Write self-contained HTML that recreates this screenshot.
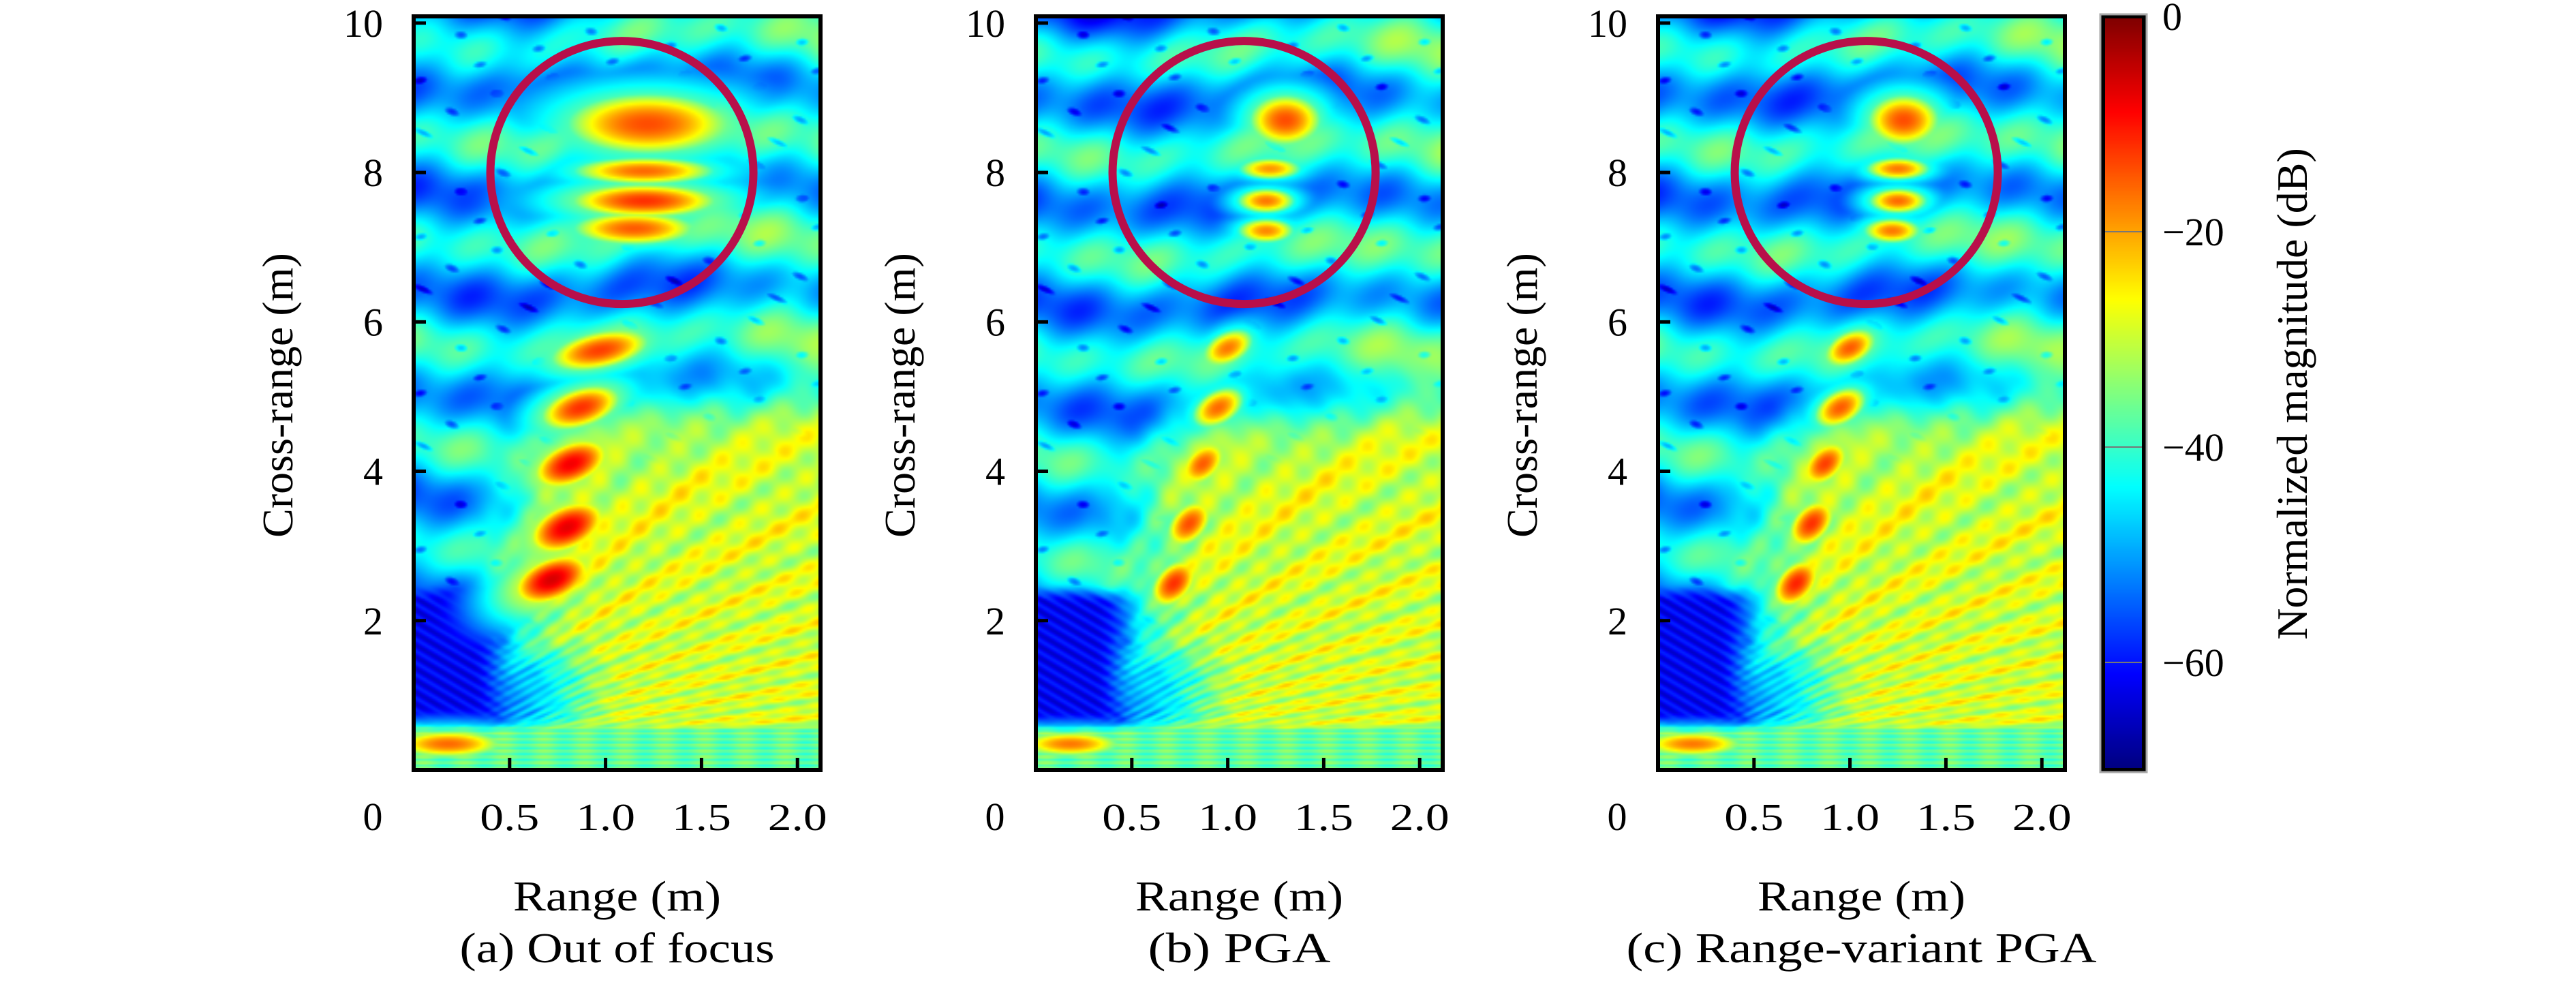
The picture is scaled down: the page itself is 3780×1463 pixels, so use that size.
<!DOCTYPE html>
<html><head><meta charset="utf-8">
<style>
html,body{margin:0;padding:0;background:#fff;}
#root{position:relative;width:3780px;height:1463px;overflow:hidden;font-family:"Liberation Serif",serif;}
canvas{position:absolute;}
svg{position:absolute;left:0;top:0;}
text{font-family:"Liberation Serif",serif;fill:#000;}
</style></head>
<body>
<div id="root">
<canvas id="cv0"></canvas>
<canvas id="cv1"></canvas>
<canvas id="cv2"></canvas>
<canvas id="cbar"></canvas>
<svg id="ov" width="3780" height="1463"></svg>
</div>
<script>
// ---- data ----
const xTicks = [0.5, 1.0, 1.5, 2.0];
const xTickLabels = ["0.5", "1.0", "1.5", "2.0"];
const yTicks = [2, 4, 6, 8, 10];
const yTickLabels = ["2", "4", "6", "8", "10"];
const cbTicks = [0, -20, -40, -60];
const cbTickLabels = ["0", "\u221220", "\u221240", "\u221260"];
const captions = ["(a) Out of focus", "(b) PGA", "(c) Range-variant PGA"];
// target blobs per panel: range (m), cross-range (m), peak dB
const blobXa = [1.22, 1.2, 1.2, 1.15, 0.97, 0.87, 0.82, 0.8, 0.72, 0.18];
const blobYa = [8.65, 8.02, 7.62, 7.25, 5.62, 4.85, 4.1, 3.25, 2.55, 0.35];
const blobPa = [-14, -16, -12, -15, -13, -12, -8, -7, -6, -16];
const blobXb = [1.3, 1.22, 1.2, 1.2, 1.0, 0.95, 0.87, 0.8, 0.72, 0.18];
const blobYb = [8.7, 8.05, 7.62, 7.22, 5.65, 4.85, 4.1, 3.3, 2.5, 0.35];
const blobPb = [-14, -19, -17, -18, -17, -16, -15, -14, -12, -17];
const blobXc = [1.28, 1.25, 1.25, 1.22, 1.0, 0.95, 0.87, 0.8, 0.72, 0.18];
const blobYc = [8.7, 8.05, 7.62, 7.22, 5.65, 4.85, 4.1, 3.3, 2.5, 0.35];
const blobPc = [-14, -17, -16, -17, -15, -15, -13, -12, -11, -17];
const blobSXa = [0.25, 0.22, 0.22, 0.19, 0.15, 0.12, 0.11, 0.11, 0.11, 0.17];
const blobSYa = [0.24, 0.11, 0.13, 0.13, 0.15, 0.16, 0.17, 0.18, 0.17, 0.11];
const blobSXb = [0.11, 0.1, 0.09, 0.09, 0.08, 0.08, 0.07, 0.07, 0.07, 0.16];
const blobSYb = [0.2, 0.09, 0.1, 0.1, 0.14, 0.15, 0.16, 0.17, 0.17, 0.1];
const circleCX = 1.085, circleCY = 8.0;

const panelLeft = [607, 1520, 2433];
const panelTop = 24, panelW = 597, panelH = 1106;
const xMax = 2.12, yMax = 10.09;
function sx(p, v){ return panelLeft[p] + (v / xMax) * panelW; }
function sy(v){ return panelTop + panelH - (v / yMax) * panelH; }

function jet(t){
  t = Math.max(0, Math.min(1, t));
  const r = Math.max(0, Math.min(1, 1.5 - Math.abs(4*t - 3)));
  const g = Math.max(0, Math.min(1, 1.5 - Math.abs(4*t - 2)));
  const b = Math.max(0, Math.min(1, 1.5 - Math.abs(4*t - 1)));
  return [r*255, g*255, b*255];
}
function sm(a, b, x){ const t = Math.max(0, Math.min(1, (x-a)/(b-a))); return t*t*(3-2*t); }

function field(x, y, seed){
  let up = -47 + 8*Math.sin(y*4.6 + seed + 0.6*Math.sin(x*3)) + 2.5*Math.sin(x*6 + y*1.3 + seed*2) + 2*Math.sin(x*17 - y*5);
  up -= 7*sm(9.3, 10, y) * sm(1.3, 0.2, x);
  up += 4*sm(1.3, 2.0, x);
  const sq = Math.sin(x*14 + Math.sin(y*3)*2) * Math.sin(y*9 + x*4);
  if (sq > 0.85) up -= 10*(sq - 0.85)/0.15;
  const ang = Math.atan2(y, x + 0.25);
  let fan = -29 + 3*Math.sin(ang*110 + seed) + 2.5*Math.sin(ang*47 + x*3) + 1.5*Math.sin(x*35 + y*11);
  fan -= 9*(1 - sm(0.4, 1.0, x));
  const fanW = sm(5.2, 3.2, y - 0.4*x) * sm(0.2, 0.8, x);
  let v = up*(1 - fanW) + fan*fanW;
  const dk = sm(0.6, 0.3, x) * sm(2.5, 2.2, y) * sm(0.55, 0.75, y);
  v = v*(1 - dk) + (-62 + 3*Math.sin(x*60 + y*40))*dk;
  const dk2 = sm(1.15, 0.6, x) * sm(1.9, 1.2, y) * sm(0.5, 0.75, y) * (1 - dk);
  v = v*(1 - 0.6*dk2) + (-53 + 5*Math.sin(x*70 - y*50))*0.6*dk2;
  const bs = sm(0.65, 0.5, y);
  v = v*(1 - bs) + (-37 + 3*Math.sin(y*80) + 2*Math.sin(x*30))*bs;
  return v;
}

function drawPanel(p, bx, by, bp, bsx, bsy, seed){
  const cv = document.getElementById('cv' + p);
  const W = 220, H = 400;
  cv.width = W; cv.height = H;
  cv.style.left = panelLeft[p] + 'px'; cv.style.top = panelTop + 'px';
  cv.style.width = panelW + 'px'; cv.style.height = panelH + 'px';
  const ctx = cv.getContext('2d');
  const img = ctx.createImageData(W, H);
  for (let j = 0; j < H; j++){
    const y = yMax * (1 - (j + 0.5)/H);
    for (let i = 0; i < W; i++){
      const x = xMax * (i + 0.5)/W;
      let v = field(x, y, seed);
      for (let k = 0; k < bx.length; k++){
        const dx = (x - bx[k]) / bsx[k], dy = (y - by[k]) / bsy[k];
        let ddx = dx, ddy = dy;
        if (k >= 4 && k <= 8){ ddy = dy - 0.45*dx; }
        const r2 = ddx*ddx + ddy*ddy;
        const b = bp[k] - 9*r2;
        const h = bp[k] - 10 - 9*Math.sqrt(r2);
        const m = Math.max(b, h);
        v = Math.max(v, m) + 2*Math.log(1 + Math.exp(-Math.abs(v - m)/2));
      }
      const c = jet((v + 70)/70);
      const o = (j*W + i)*4;
      img.data[o] = c[0]; img.data[o+1] = c[1]; img.data[o+2] = c[2]; img.data[o+3] = 255;
    }
  }
  ctx.putImageData(img, 0, 0);
}
drawPanel(0, blobXa, blobYa, blobPa, blobSXa, blobSYa, 0.3);
drawPanel(1, blobXb, blobYb, blobPb, blobSXb, blobSYb, 1.1);
drawPanel(2, blobXc, blobYc, blobPc, blobSXb, blobSYb, 0.7);

// colorbar
const cbL = 3086, cbT = 24, cbW = 60, cbH = 1106, cbMin = -70, cbMax = 0;
function cy(v){ return cbT + (cbMax - v)/(cbMax - cbMin)*cbH; }
(function(){
  const cv = document.getElementById('cbar');
  cv.width = 1; cv.height = 256;
  cv.style.left = cbL + 'px'; cv.style.top = cbT + 'px';
  cv.style.width = cbW + 'px'; cv.style.height = cbH + 'px';
  const ctx = cv.getContext('2d');
  for (let j = 0; j < 256; j++){
    const c = jet(1 - j/255);
    ctx.fillStyle = 'rgb(' + c.map(Math.round).join(',') + ')';
    ctx.fillRect(0, j, 1, 1);
  }
})();

const NS = 'http://www.w3.org/2000/svg';
const ov = document.getElementById('ov');
function el(tag, attrs, txt){
  const e = document.createElementNS(NS, tag);
  for (const k in attrs) e.setAttribute(k, attrs[k]);
  if (txt !== undefined) e.textContent = txt;
  ov.appendChild(e);
  return e;
}
for (let p = 0; p < 3; p++){
  const L = panelLeft[p];
  let e;
  e = el('rect', {x: L, y: panelTop, width: panelW, height: panelH, fill: 'none', stroke: '#000', 'stroke-width': 6});
  
  
  e = el('ellipse', {cx: sx(p, circleCX), cy: sy(circleCY), rx: 193, ry: 193, fill: 'none', stroke: '#b80f4a', 'stroke-width': 12});
  
  
  for (let i = 0; i < xTicks.length; i++){
    const X = sx(p, xTicks[i]);
    e = el('line', {x1: X, x2: X, y1: panelTop + panelH, y2: panelTop + panelH - 18, stroke: '#000', 'stroke-width': 5});
    
    
    e = el('text', {x: X, y: 1218, 'font-size': 56, 'text-anchor': 'middle', 'textLength': xTickLabels[i].length*29, 'lengthAdjust': 'spacingAndGlyphs'}, xTickLabels[i]);
    
    
  }
  for (let i = 0; i < yTicks.length; i++){
    const Y = sy(yTicks[i]);
    e = el('line', {x1: L, x2: L + 18, y1: Y, y2: Y, stroke: '#000', 'stroke-width': 5});
    
    
    e = el('text', {x: L - 45, y: Y + 20, 'font-size': 58, 'text-anchor': 'end'}, yTickLabels[i]);
    
    
  }
  e = el('text', {x: L - 60, y: 1218, 'font-size': 58, 'text-anchor': 'middle'}, '0');
  
  
  e = el('text', {x: L + panelW/2, y: 1336, 'font-size': 62, 'text-anchor': 'middle', 'textLength': 305, 'lengthAdjust': 'spacingAndGlyphs'}, 'Range (m)');
  
  
  const tx = L - 178, ty = 580;
  e = el('text', {x: tx, y: ty, 'font-size': 64, 'text-anchor': 'middle', transform: 'rotate(-90 ' + tx + ' ' + ty + ')'}, 'Cross-range (m)');
  
  
  const capW = [462, 268, 690];
  e = el('text', {x: L + panelW/2, y: 1412, 'font-size': 62, 'text-anchor': 'middle', 'textLength': capW[p], 'lengthAdjust': 'spacingAndGlyphs'}, captions[p]);
  
  
}
let e2 = el('rect', {x: cbL, y: cbT, width: cbW, height: cbH, fill: 'none', stroke: '#000', 'stroke-width': 6});


e2 = el('rect', {x: cbL - 4, y: cbT - 3, width: cbW + 8, height: cbH + 6, fill: 'none', stroke: '#aaa', 'stroke-width': 3});


for (let i = 0; i < cbTicks.length; i++){
  const Y = cy(cbTicks[i]);
  if (i > 0){
    e2 = el('line', {x1: cbL + 3, x2: cbL + cbW - 3, y1: Y, y2: Y, stroke: '#777', 'stroke-width': 2});
    
    
  }
  e2 = el('text', {x: 3173, y: Y + 20, 'font-size': 58, 'text-anchor': 'start'}, cbTickLabels[i]);
  
  
}
e2 = el('text', {x: 3385, y: 578, 'font-size': 64, 'text-anchor': 'middle', transform: 'rotate(-90 3385 578)'}, 'Normalized magnitude (dB)');


</script>
</body></html>
